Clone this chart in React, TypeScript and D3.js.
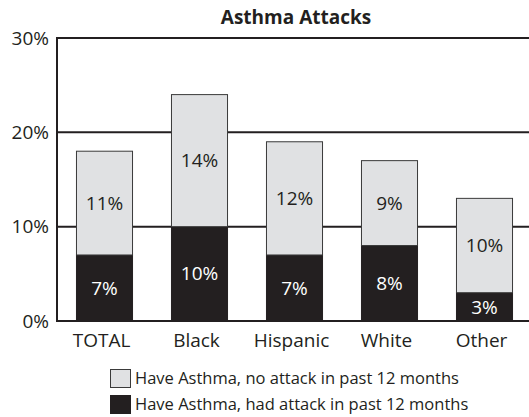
import React from "react";
import * as d3 from "d3";

// data
const categories = ["TOTAL", "Black", "Hispanic", "White", "Other"];
const hadAttack = [7, 10, 7, 8, 3];
const noAttack = [11, 14, 12, 9, 10];
const yTicks = [0, 10, 20, 30];
const legendLabels = [
  "Have Asthma, no attack in past 12 months",
  "Have Asthma, had attack in past 12 months",
];

const W = 529;
const H = 417;
const margin = { top: 38, right: 0, bottom: 96, left: 57 };
const ink = "#231f20";
const grey = "#e0e1e3";
const font = "'Open Sans', sans-serif";

export default function App() {
  const x = d3
    .scaleBand()
    .domain(categories)
    .range([margin.left, 532])
    .paddingInner(0.41)
    .paddingOuter(0.205);

  const y = d3.scaleLinear().domain([0, 30]).range([H - margin.bottom, margin.top]);

  const rows = categories.map((c, i) => ({
    name: c,
    attack: hadAttack[i],
    noAttack: noAttack[i],
  }));
  const stack = d3.stack<any>().keys(["attack", "noAttack"])(rows);

  return (
    <svg
      width={W}
      height={H}
      style={{ position: "absolute", left: 0, top: 0, background: "#fff" }}
      fontFamily={font}
    >
      <text x={296} y={24} textAnchor="middle" fontWeight="bold" fontSize={19} fill={ink}>
        Asthma Attacks
      </text>

      {/* grid lines */}
      {yTicks.map((t) => (
        <g key={t}>
          <line x1={margin.left} x2={W} y1={y(t)} y2={y(t)} stroke={ink} strokeWidth={2} />
          <text
            x={49}
            y={y(t)}
            dy="0.35em"
            textAnchor="end"
            fontSize={19}
            fill={ink}
          >
            {t + "%"}
          </text>
        </g>
      ))}
      <line x1={margin.left} x2={margin.left} y1={y(30) - 1} y2={y(0) + 1} stroke={ink} strokeWidth={2} />

      {/* stacked bars */}
      {stack.map((layer, li) =>
        layer.map((d, i) => {
          const x0 = x(categories[i])!;
          const top = y(d[1]);
          const bot = y(d[0]);
          const val = d[1] - d[0];
          return (
            <g key={layer.key + i}>
              <rect
                x={x0}
                y={top}
                width={x.bandwidth()}
                height={bot - top}
                fill={li === 0 ? ink : grey}
                stroke={li === 0 ? ink : "#3a3a3a"}
                strokeWidth={1}
              />
              <text
                x={x0 + x.bandwidth() / 2}
                y={(top + bot) / 2}
                dy="0.35em"
                textAnchor="middle"
                fontSize={19}
                fill={li === 0 ? "#fff" : ink}
              >
                {val + "%"}
              </text>
            </g>
          );
        })
      )}
      <line x1={margin.left} x2={W} y1={y(0)} y2={y(0)} stroke={ink} strokeWidth={2} />

      {/* category labels */}
      {categories.map((c) => (
        <text
          key={c}
          x={x(c)! + x.bandwidth() / 2 - 3}
          y={347}
          textAnchor="middle"
          fontSize={19}
          fill={ink}
        >
          {c}
        </text>
      ))}

      {/* legend */}
      {legendLabels.map((l, i) => (
        <g key={l} transform={`translate(110, ${369 + i * 26})`}>
          <rect x={0.5} y={0.5} width={20} height={18} fill={i === 0 ? grey : ink} stroke={i === 0 ? "#3a3a3a" : ink} />
          <text x={25} y={15} fontSize={16.5} fill={ink}>
            {l}
          </text>
        </g>
      ))}
    </svg>
  );
}
